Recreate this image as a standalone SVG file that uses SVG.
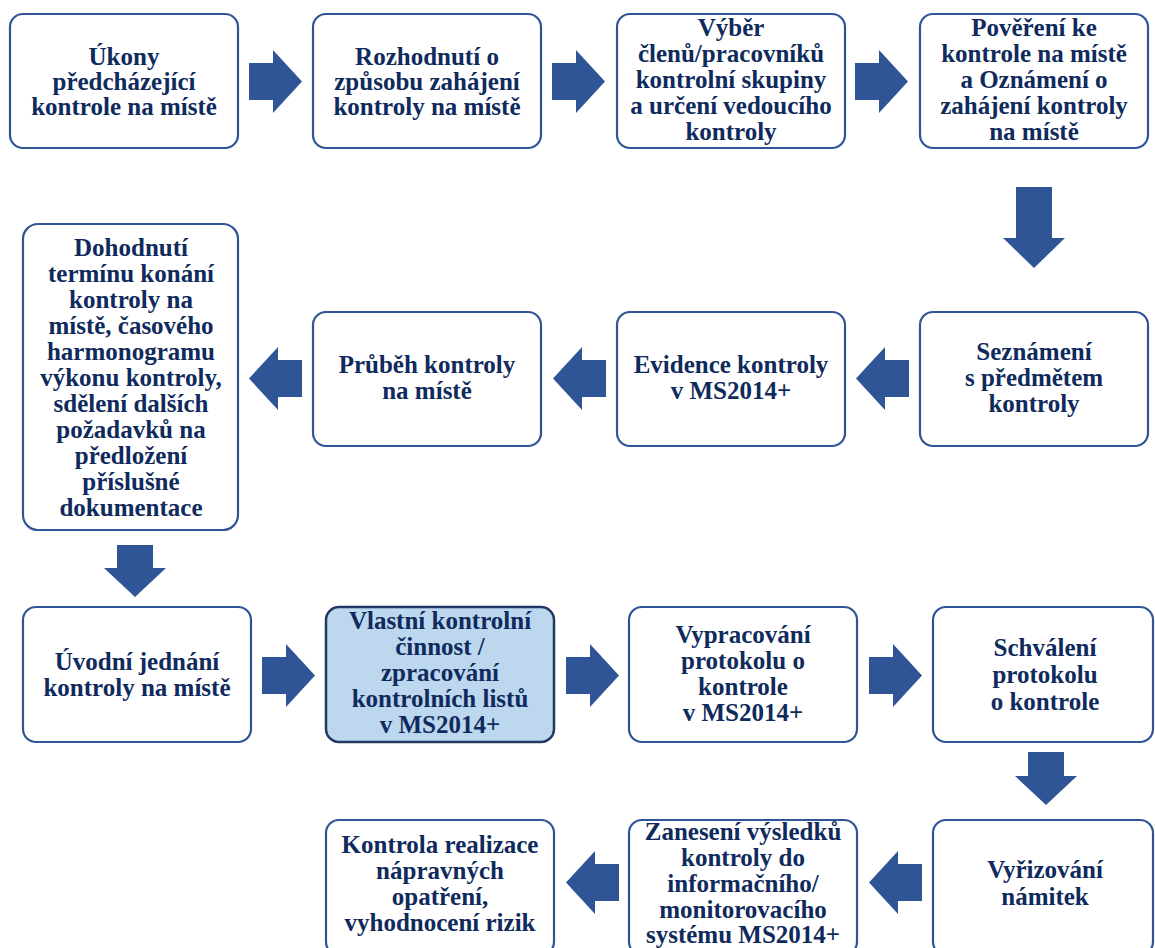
<svg xmlns="http://www.w3.org/2000/svg" width="1155" height="948" viewBox="0 0 1155 948">
<style>
.box{fill:#ffffff;stroke:#2f5597;stroke-width:2.2}
.hl{fill:#bdd7ee;stroke:#1f3864;stroke-width:2.5}
.arrow{fill:#2f5597}
.t{font-family:'Liberation Serif','Times New Roman',serif;font-weight:700;font-size:25px;fill:#0f2a5c;text-anchor:middle}
</style>
<rect width="1155" height="948" fill="#ffffff"/>
<g id="connectors">
<path class="arrow" d="M249 63H273V50L302 81.5L273 113V100H249Z"/>
<path class="arrow" d="M552 63H576V50L605 81.5L576 113V100H552Z"/>
<path class="arrow" d="M855 63H879V50L908 81.5L879 113V100H855Z"/>
<path class="arrow" d="M1016 187H1052V238H1065L1034 268L1003 238H1016Z"/>
<path class="arrow" d="M909 360H885V347L856 378.5L885 410V397H909Z"/>
<path class="arrow" d="M606 360H582V347L553 378.5L582 410V397H606Z"/>
<path class="arrow" d="M302 360H278V347L249 378.5L278 410V397H302Z"/>
<path class="arrow" d="M117 545H153V568H166L135 597L104 568H117Z"/>
<path class="arrow" d="M262 657H286V644L315 675.5L286 707V694H262Z"/>
<path class="arrow" d="M566 657H590V644L619 675.5L590 707V694H566Z"/>
<path class="arrow" d="M869 657H893V644L922 675.5L893 707V694H869Z"/>
<path class="arrow" d="M1028 752H1064V776H1077L1046 805L1015 776H1028Z"/>
<path class="arrow" d="M922 864H898V851L869 882.5L898 914V901H922Z"/>
<path class="arrow" d="M619 864H595V851L566 882.5L595 914V901H619Z"/>
</g>
<g class="t">
<g id="n1"><rect class="box" x="10" y="14" width="228" height="134" rx="13"/>
<text x="124" y="65">Úkony</text><text x="124" y="90">předcházející</text><text x="124" y="115">kontrole na místě</text></g>
<g id="n2"><rect class="box" x="313" y="14" width="228" height="134" rx="13"/>
<text x="427" y="65">Rozhodnutí o</text><text x="427" y="90">způsobu zahájení</text><text x="427" y="115">kontroly na místě</text></g>
<g id="n3"><rect class="box" x="617" y="14" width="228" height="134" rx="13"/>
<text x="731" y="36">Výběr</text><text x="731" y="62">členů/pracovníků</text><text x="731" y="88">kontrolní skupiny</text><text x="731" y="114">a určení vedoucího</text><text x="731" y="140">kontroly</text></g>
<g id="n4"><rect class="box" x="920" y="14" width="228" height="134" rx="13"/>
<text x="1034" y="36">Pověření ke</text><text x="1034" y="62">kontrole na místě</text><text x="1034" y="88">a Oznámení o</text><text x="1034" y="114">zahájení kontroly</text><text x="1034" y="140">na místě</text></g>
<g id="n5"><rect class="box" x="920" y="312" width="228" height="134" rx="13"/>
<text x="1034" y="360">Seznámení</text><text x="1034" y="386">s předmětem</text><text x="1034" y="412">kontroly</text></g>
<g id="n6"><rect class="box" x="617" y="312" width="228" height="134" rx="13"/>
<text x="731" y="373">Evidence kontroly</text><text x="731" y="399">v MS2014+</text></g>
<g id="n7"><rect class="box" x="313" y="312" width="228" height="134" rx="13"/>
<text x="427" y="373">Průběh kontroly</text><text x="427" y="399">na místě</text></g>
<g id="n8"><rect class="box" x="23" y="224" width="215" height="306" rx="15"/>
<text x="131" y="256">Dohodnutí</text><text x="131" y="282">termínu konání</text><text x="131" y="308">kontroly na</text><text x="131" y="334">místě, časového</text><text x="131" y="360">harmonogramu</text><text x="131" y="386">výkonu kontroly,</text><text x="131" y="412">sdělení dalších</text><text x="131" y="438">požadavků na</text><text x="131" y="464">předložení</text><text x="131" y="490">příslušné</text><text x="131" y="516">dokumentace</text></g>
<g id="n9"><rect class="box" x="23" y="607" width="228" height="135" rx="13"/>
<text x="137" y="670">Úvodní jednání</text><text x="137" y="696">kontroly na místě</text></g>
<g id="n10"><rect class="hl" x="326" y="607" width="228" height="135" rx="13"/>
<text x="440" y="629">Vlastní kontrolní</text><text x="440" y="655">činnost /</text><text x="440" y="681">zpracování</text><text x="440" y="707">kontrolních listů</text><text x="440" y="733">v MS2014+</text></g>
<g id="n11"><rect class="box" x="629" y="607" width="228" height="135" rx="13"/>
<text x="743" y="643">Vypracování</text><text x="743" y="669">protokolu o</text><text x="743" y="695">kontrole</text><text x="743" y="721">v MS2014+</text></g>
<g id="n12"><rect class="box" x="933" y="607" width="220" height="135" rx="13"/>
<text x="1045" y="656">Schválení</text><text x="1045" y="683">protokolu</text><text x="1045" y="710">o kontrole</text></g>
<g id="n13"><rect class="box" x="933" y="820" width="220" height="135" rx="13"/>
<text x="1045" y="878">Vyřizování</text><text x="1045" y="905">námitek</text></g>
<g id="n14"><rect class="box" x="629" y="820" width="228" height="135" rx="13"/>
<text x="743" y="840">Zanesení výsledků</text><text x="743" y="866">kontroly do</text><text x="743" y="892">informačního/</text><text x="743" y="918">monitorovacího</text><text x="743" y="943">systému MS2014+</text></g>
<g id="n15"><rect class="box" x="326" y="820" width="228" height="135" rx="13"/>
<text x="440" y="853">Kontrola realizace</text><text x="440" y="879">nápravných</text><text x="440" y="905">opatření,</text><text x="440" y="931">vyhodnocení rizik</text></g>
</g>
</svg>
